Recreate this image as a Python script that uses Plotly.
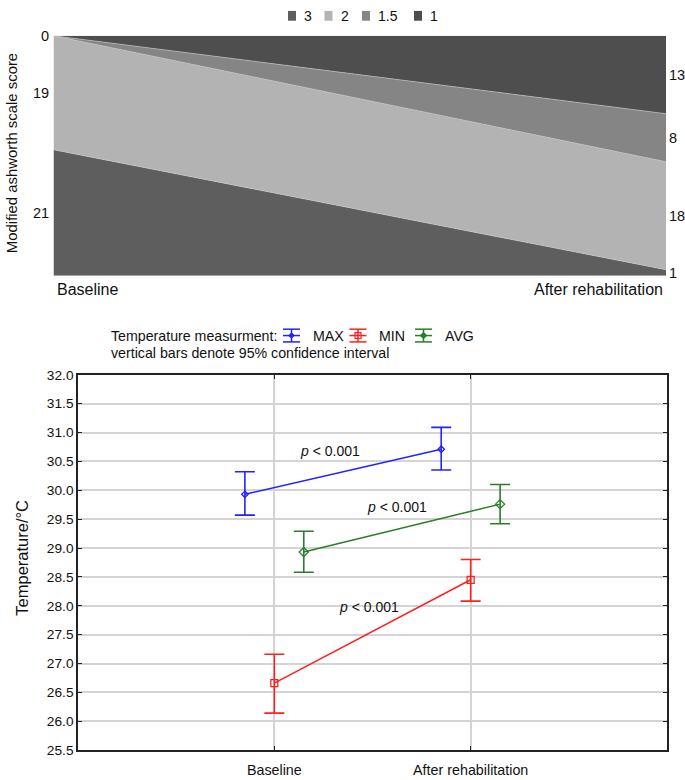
import plotly.graph_objects as go

# ---------------- data ----------------
# Top chart: number of patients per Modified Ashworth Scale score
stages = ["Baseline", "After rehabilitation"]
mas_scores = ["3", "2", "1.5", "1"]           # stacked bottom -> top
mas_counts = {
    "3":   [21, 1],
    "2":   [19, 18],
    "1.5": [0, 8],
    "1":   [0, 13],
}
mas_colors = {"3": "#5e5e5e", "2": "#b3b3b3", "1.5": "#858585", "1": "#4e4e4e"}

# Bottom chart: temperature means with 95% CI
temp_series = ["MAX", "MIN", "AVG"]
temp_mean = {
    "MAX": [29.93, 30.71],
    "MIN": [26.66, 28.45],
    "AVG": [28.93, 29.76],
}
temp_ci_upper = {
    "MAX": [30.32, 31.09],
    "MIN": [27.16, 28.80],
    "AVG": [29.29, 30.10],
}
temp_ci_lower = {
    "MAX": [29.57, 30.35],
    "MIN": [26.14, 28.08],
    "AVG": [28.58, 29.42],
}
temp_colors = {"MAX": "#2222ff", "MIN": "#ff1f1f", "AVG": "#2a7d2a"}
temp_symbols = {"MAX": "diamond-open", "MIN": "square-open", "AVG": "diamond-open"}
temp_sizes = {"MAX": 5, "MIN": 7, "AVG": 7}
x_offset = {"MAX": -0.15, "MIN": 0.0, "AVG": 0.15}
p_labels = ["<i>p</i> < 0.001", "<i>p</i> < 0.001", "<i>p</i> < 0.001"]
p_pos = {"MAX": (0.285, 30.68), "AVG": (0.625, 29.71), "MIN": (0.48, 27.98)}
y_ticks = [25.5 + 0.5 * i for i in range(14)]
legend_title = "Temperature measurment:"
legend_note = "vertical bars denote 95% confidence interval"

FONT = "Liberation Sans, Arial, Helvetica, sans-serif"
W, H = 685, 780
TXT = "#111111"


def px(x):
    return x / W


def py(y):
    return 1 - y / H


fig = go.Figure()
annotations = []
shapes = []

# ---------------- top stacked area ----------------
xs_top = list(range(len(stages)))
for s in mas_scores:
    fig.add_trace(go.Scatter(
        x=xs_top, y=mas_counts[s], name=s, stackgroup="mas",
        mode="lines", line=dict(width=0.6 if s != "1" else 0, color="#c9c9c9"),
        fillcolor=mas_colors[s], xaxis="x", yaxis="y",
        showlegend=False, hoverinfo="skip",
    ))

# manual legend for top chart
top_leg_sq = [288, 324.5, 362, 414]
for s, x0 in zip(mas_scores, top_leg_sq):
    shapes.append(dict(type="rect", xref="paper", yref="paper",
                       x0=px(x0), x1=px(x0 + 8), y0=py(14), y1=py(4),
                       fillcolor=mas_colors[s], line=dict(width=0)))
    annotations.append(dict(x=px(x0 + 14), y=py(9), xref="paper", yref="paper", text=s,
                            showarrow=False, xanchor="left", yanchor="middle",
                            font=dict(size=14, color=TXT, family=FONT)))

# count labels at band centres
total = [sum(mas_counts[s][i] for s in mas_scores) for i in range(len(stages))]
for i in range(len(stages)):
    cum = 0
    seen = set()
    for s in mas_scores:
        v = mas_counts[s][i]
        mid = cum + v / 2
        cum += v
        key = round(mid, 3)
        if key in seen:
            continue
        seen.add(key)
        annotations.append(dict(
            x=xs_top[i], y=mid, xref="x", yref="y", text=str(v), showarrow=False,
            xanchor="right" if i == 0 else "left", xshift=-3 if i == 0 else 1,
            font=dict(size=14.5, color=TXT, family=FONT),
        ))

annotations.append(dict(x=0, y=0, xref="x", yref="y", text=stages[0], showarrow=False,
                        xanchor="left", yanchor="top", xshift=1, yshift=-3,
                        font=dict(size=16, color=TXT, family=FONT)))
annotations.append(dict(x=1, y=0, xref="x", yref="y", text=stages[1], showarrow=False,
                        xanchor="right", yanchor="top", xshift=-1, yshift=-3,
                        font=dict(size=16, color=TXT, family=FONT)))
annotations.append(dict(x=px(12), y=py(149), xref="paper", yref="paper",
                        text="Modified ashworth scale score", textangle=-90, showarrow=False,
                        xanchor="center", yanchor="middle",
                        font=dict(size=14.9, color=TXT, family=FONT)))

# ---------------- bottom error-bar chart ----------------
xs_b = list(range(len(stages)))
for s in temp_series:
    m = temp_mean[s]
    up = [u - a for u, a in zip(temp_ci_upper[s], m)]
    lo = [a - l for a, l in zip(m, temp_ci_lower[s])]
    fig.add_trace(go.Scatter(
        x=[x + x_offset[s] for x in xs_b], y=m, name=s, mode="lines+markers",
        line=dict(color=temp_colors[s], width=1.5),
        marker=dict(symbol=temp_symbols[s], size=temp_sizes[s], color=temp_colors[s],
                    line=dict(width=1.3, color=temp_colors[s])),
        error_y=dict(type="data", symmetric=False, array=up, arrayminus=lo,
                     color=temp_colors[s], thickness=1.6, width=10),
        xaxis="x2", yaxis="y2", showlegend=False,
    ))

for (s, txt) in zip(["MAX", "AVG", "MIN"], p_labels):
    ppx, ppy = p_pos[s]
    annotations.append(dict(x=ppx, y=ppy, xref="x2", yref="y2", text=txt, showarrow=False,
                            font=dict(size=14, color=TXT, family=FONT)))

# y-axis title of the bottom chart
annotations.append(dict(x=px(22), y=py(561.5), xref="paper", yref="paper",
                        text="Temperature/°C", textangle=-90, showarrow=False,
                        xanchor="center", yanchor="middle",
                        font=dict(size=16.5, color=TXT, family=FONT)))

# manual legend for bottom chart
annotations.append(dict(x=px(109), y=py(335.5), xref="paper", yref="paper",
                        text=legend_title, showarrow=False, xanchor="left", yanchor="middle",
                        font=dict(size=14.2, color=TXT, family=FONT)))
annotations.append(dict(x=px(109), y=py(353), xref="paper", yref="paper",
                        text=legend_note, showarrow=False, xanchor="left", yanchor="middle",
                        font=dict(size=14.2, color=TXT, family=FONT)))
leg_glyph_x = {"MAX": 283, "MIN": 349.5, "AVG": 415}
leg_text_x = {"MAX": 310.5, "MIN": 377, "AVG": 443}
yc, gw = 335, 17
for s in temp_series:
    c = temp_colors[s]
    x0 = leg_glyph_x[s]
    xm = x0 + gw / 2
    for yy in (yc - 6.5, yc, yc + 6.5):
        shapes.append(dict(type="line", xref="paper", yref="paper",
                           x0=px(x0), x1=px(x0 + gw), y0=py(yy), y1=py(yy),
                           line=dict(color=c, width=1.5)))
    shapes.append(dict(type="line", xref="paper", yref="paper",
                       x0=px(xm), x1=px(xm), y0=py(yc - 6.5), y1=py(yc + 6.5),
                       line=dict(color=c, width=1.5)))
    if s == "MIN":
        shapes.append(dict(type="rect", xref="paper", yref="paper",
                           x0=px(xm - 3), x1=px(xm + 3), y0=py(yc + 3), y1=py(yc - 3),
                           line=dict(color=c, width=1.2), fillcolor="rgba(0,0,0,0)"))
    else:
        r = 2.5 if s == "MAX" else 3
        path = (f"M {px(xm - r)} {py(yc)} L {px(xm)} {py(yc - r)} "
                f"L {px(xm + r)} {py(yc)} L {px(xm)} {py(yc + r)} Z")
        shapes.append(dict(type="path", xref="paper", yref="paper", path=path,
                           line=dict(color=c, width=1.2), fillcolor=c))
    annotations.append(dict(x=px(leg_text_x[s]), y=py(yc + 0.5), xref="paper", yref="paper",
                            text=s, showarrow=False, xanchor="left", yanchor="middle",
                            font=dict(size=14.2, color=TXT, family=FONT)))

fig.update_layout(
    width=W, height=H, autosize=False,
    margin=dict(l=0, r=0, t=0, b=0),
    paper_bgcolor="white", plot_bgcolor="white",
    font=dict(family=FONT, size=13, color=TXT),
    annotations=annotations, shapes=shapes, showlegend=False,
    xaxis=dict(domain=[px(53.5), px(666)], range=[0, 1], visible=False, fixedrange=True),
    yaxis=dict(domain=[py(274), py(29.3)], range=[0, max(total)], visible=False,
               fixedrange=True),
    xaxis2=dict(domain=[px(78), px(667)], range=[-1, 2], tickvals=xs_b, ticktext=stages,
                showgrid=True, gridcolor="#d4d4d4", gridwidth=1.5, zeroline=False,
                showline=True, linecolor="#222222", linewidth=1.5, mirror="ticks",
                ticks="inside", ticklen=4, tickcolor="#222222", ticklabelstandoff=6,
                tickfont=dict(size=14.3, family=FONT, color=TXT), anchor="y2"),
    yaxis2=dict(domain=[py(757.7), py(375)], range=[25.5, 32.0], tickvals=y_ticks,
                tickformat=".1f", showgrid=True, gridcolor="#d4d4d4", gridwidth=1.5,
                zeroline=False, showline=True, linecolor="#222222", linewidth=1.5,
                mirror="ticks", ticks="inside", ticklen=4, tickcolor="#222222",
                tickfont=dict(size=13.7, family=FONT, color=TXT), anchor="x2"),
)

fig.write_html("out.html", config={"displayModeBar": False}, post_script=[
    "document.body.style.margin='0';document.body.style.padding='0';"
    "document.documentElement.style.overflow='hidden';"
])
